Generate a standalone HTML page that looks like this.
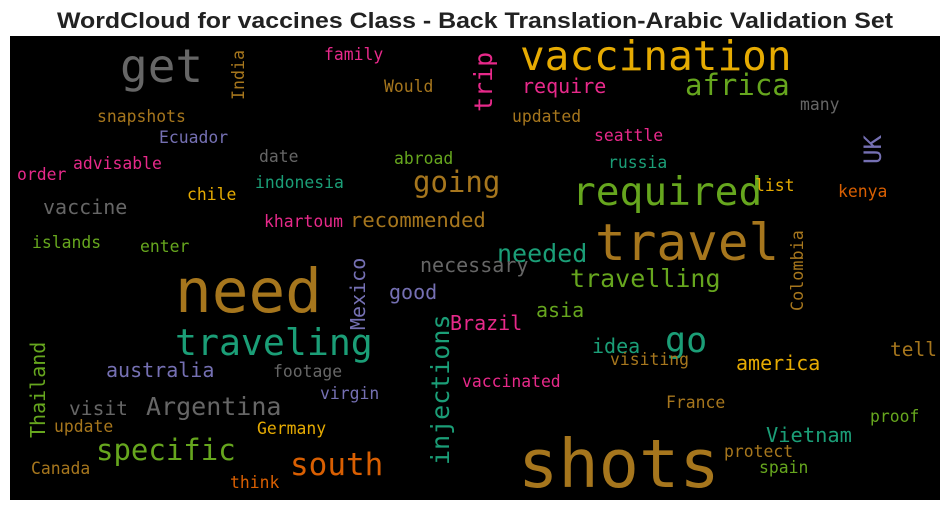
<!DOCTYPE html>
<html><head><meta charset="utf-8"><style>
html,body{margin:0;padding:0;background:#fff;width:950px;height:511px;overflow:hidden}
svg text.w{font-family:"DejaVu Sans Mono","Liberation Mono",monospace}
</style></head><body>
<svg width="950" height="511" viewBox="0 0 950 511">
<text x="475" y="28" text-anchor="middle" font-family="Liberation Sans, Arial, sans-serif" font-weight="bold" font-size="22" fill="#222" textLength="836" lengthAdjust="spacingAndGlyphs">WordCloud for vaccines Class - Back Translation-Arabic Validation Set</text>
<rect x="10" y="36" width="930" height="464" fill="#000"/>
<g>
<text class="w" x="120" y="82" font-size="46" fill="#666666">get</text>
<text class="w" x="520" y="70" font-size="41" fill="#e6ab02">vaccination</text>
<text class="w" x="175" y="312" font-size="61" fill="#a6761d">need</text>
<text class="w" x="595" y="260" font-size="51" fill="#a6761d">travel</text>
<text class="w" x="518" y="487" font-size="67" fill="#a6761d">shots</text>
<text class="w" x="572" y="205" font-size="39.5" fill="#66a61e">required</text>
<text class="w" x="175" y="355" font-size="36.5" fill="#1b9e77">traveling</text>
<text class="w" x="685" y="95" font-size="29" fill="#66a61e">africa</text>
<text class="w" x="413" y="192" font-size="29" fill="#a6761d">going</text>
<text class="w" x="665" y="352" font-size="35" fill="#1b9e77">go</text>
<text class="w" x="290" y="475" font-size="31" fill="#d95f02">south</text>
<text class="w" x="96" y="460" font-size="29" fill="#66a61e">specific</text>
<text class="w" x="146" y="415" font-size="25" fill="#666666">Argentina</text>
<text class="w" x="69" y="415" font-size="19.6" fill="#666666">visit</text>
<text class="w" x="570" y="287" font-size="25" fill="#66a61e">travelling</text>
<text class="w" x="497" y="262" font-size="25" fill="#1b9e77">needed</text>
<text class="w" x="420" y="272" font-size="20" fill="#666666">necessary</text>
<text class="w" x="350" y="227" font-size="20.5" fill="#a6761d">recommended</text>
<text class="w" x="106" y="377" font-size="20" fill="#7570b3">australia</text>
<text class="w" x="736" y="370" font-size="20" fill="#e6ab02">america</text>
<text class="w" x="766" y="442" font-size="20.4" fill="#1b9e77">Vietnam</text>
<text class="w" x="450" y="330" font-size="20" fill="#e7298a">Brazil</text>
<text class="w" x="536" y="317" font-size="20" fill="#66a61e">asia</text>
<text class="w" x="592" y="353" font-size="20" fill="#1b9e77">idea</text>
<text class="w" x="890" y="356" font-size="19.5" fill="#a6761d">tell</text>
<text class="w" x="522" y="93" font-size="20" fill="#e7298a">require</text>
<text class="w" x="43" y="214" font-size="20" fill="#666666">vaccine</text>
<text class="w" x="389" y="299" font-size="20" fill="#7570b3">good</text>
<text class="w" transform="translate(492,112) rotate(-90)" font-size="25" fill="#e7298a">trip</text>
<text class="w" transform="translate(449,465) rotate(-90)" font-size="25" fill="#1b9e77">injections</text>
<text class="w" transform="translate(365,330) rotate(-90)" font-size="20" fill="#7570b3">Mexico</text>
<text class="w" transform="translate(45,438) rotate(-90)" font-size="20" fill="#66a61e">Thailand</text>
<text class="w" transform="translate(244,100) rotate(-90)" font-size="16.6" fill="#a6761d">India</text>
<text class="w" transform="translate(803,311) rotate(-90)" font-size="16.8" fill="#a6761d">Colombia</text>
<text class="w" transform="translate(881,164) rotate(-90)" font-size="24" fill="#7570b3">UK</text>
<text class="w" x="324" y="60" font-size="16.4" fill="#e7298a">family</text>
<text class="w" x="384" y="92" font-size="16.4" fill="#a6761d">Would</text>
<text class="w" x="97" y="122" font-size="16.4" fill="#a6761d">snapshots</text>
<text class="w" x="159" y="143" font-size="16.4" fill="#7570b3">Ecuador</text>
<text class="w" x="73" y="169" font-size="16.4" fill="#e7298a">advisable</text>
<text class="w" x="17" y="180" font-size="16.4" fill="#e7298a">order</text>
<text class="w" x="259" y="162" font-size="16.4" fill="#666666">date</text>
<text class="w" x="394" y="164" font-size="16.4" fill="#66a61e">abroad</text>
<text class="w" x="255" y="188" font-size="16.4" fill="#1b9e77">indonesia</text>
<text class="w" x="187" y="200" font-size="16.4" fill="#e6ab02">chile</text>
<text class="w" x="264" y="227" font-size="16.4" fill="#e7298a">khartoum</text>
<text class="w" x="32" y="248" font-size="16.4" fill="#66a61e">islands</text>
<text class="w" x="140" y="252" font-size="16.4" fill="#66a61e">enter</text>
<text class="w" x="273" y="377" font-size="16.4" fill="#666666">footage</text>
<text class="w" x="320" y="399" font-size="16.4" fill="#7570b3">virgin</text>
<text class="w" x="54" y="432" font-size="16.4" fill="#a6761d">update</text>
<text class="w" x="257" y="434" font-size="16.4" fill="#e6ab02">Germany</text>
<text class="w" x="31" y="474" font-size="16.4" fill="#a6761d">Canada</text>
<text class="w" x="230" y="488" font-size="16.4" fill="#d95f02">think</text>
<text class="w" x="462" y="387" font-size="16.4" fill="#e7298a">vaccinated</text>
<text class="w" x="610" y="365" font-size="16.4" fill="#a6761d">visiting</text>
<text class="w" x="666" y="408" font-size="16.4" fill="#a6761d">France</text>
<text class="w" x="870" y="422" font-size="16.4" fill="#66a61e">proof</text>
<text class="w" x="724" y="457" font-size="16.4" fill="#a6761d">protect</text>
<text class="w" x="759" y="473" font-size="16.4" fill="#66a61e">spain</text>
<text class="w" x="512" y="122" font-size="16.4" fill="#a6761d">updated</text>
<text class="w" x="594" y="141" font-size="16.4" fill="#e7298a">seattle</text>
<text class="w" x="608" y="168" font-size="16.4" fill="#1b9e77">russia</text>
<text class="w" x="755" y="191" font-size="16.4" fill="#e6ab02">list</text>
<text class="w" x="838" y="197" font-size="16.4" fill="#d95f02">kenya</text>
<text class="w" x="800" y="110" font-size="16.4" fill="#666666">many</text>
</g>
</svg>
</body></html>
